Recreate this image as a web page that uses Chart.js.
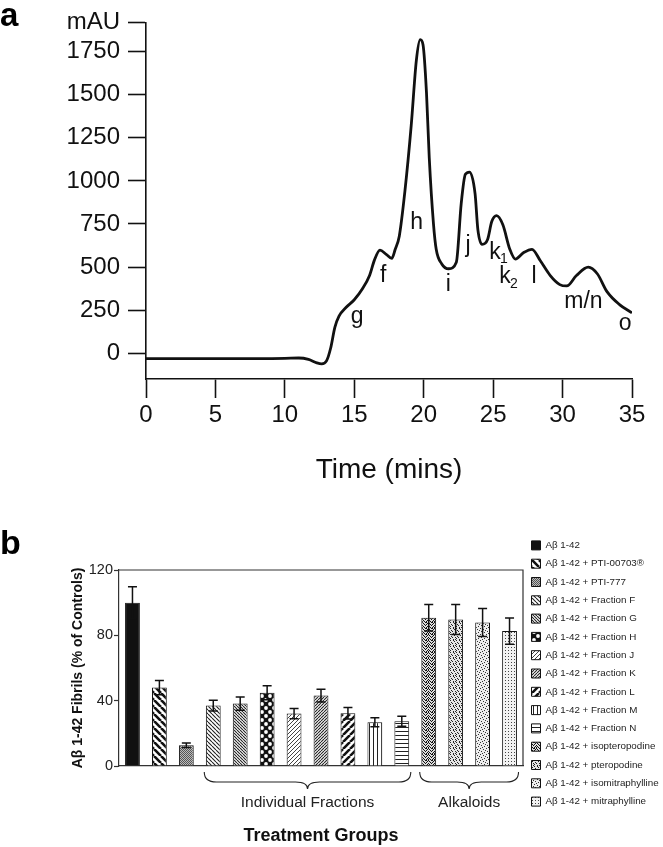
<!DOCTYPE html>
<html>
<head>
<meta charset="utf-8">
<title>HPLC profile and fibril inhibition</title>
<script src="https://cdn.jsdelivr.net/npm/chart.js@4.4.1/dist/chart.umd.min.js"></script>
<style>
  body { margin: 0; background: #fff; }
  #wrap { position: relative; width: 663px; height: 847px; }
  #chartA { position: absolute; left: 0; top: 0; }
  #chartB { position: absolute; left: 0; top: 490px; }
</style>
</head>
<body>
<div id="wrap">
  <canvas id="chartA" width="663" height="490"></canvas>
  <canvas id="chartB" width="663" height="357"></canvas>
</div>
<script>
// ---- panel a: HPLC trace ----
const times = [0, 5, 10, 11, 11.7, 12.3, 12.65, 13.0, 13.3, 13.6, 13.9, 14.4, 15.0, 15.6, 16.1, 16.45, 16.85, 17.3, 17.7, 17.95,
  18.24, 18.65, 19.1, 19.47, 19.75, 19.95, 20.2, 20.4, 20.7, 20.9, 21.3, 21.8, 22.35, 22.7, 23.0, 23.3, 23.7, 23.9, 24.2, 24.6,
  24.9, 25.25, 25.7, 26.2, 26.6, 27.2, 27.8, 28.4, 29.1, 29.8, 30.3, 31.0, 31.85, 32.5, 33.2, 34.1, 35.0];
const mau = [-32, -32, -30, -28, -36, -56, -62, -45, 30, 150, 215, 265, 310, 375, 451, 540, 598, 574, 550, 603,
  679, 943, 1322, 1700, 1820, 1790, 1511, 1133, 754, 603, 518, 490, 528, 868, 1038, 1051, 925, 717, 632, 660,
  764, 798, 745, 603, 546, 584, 603, 536, 452, 398, 390, 451, 499, 461, 357, 282, 234];
const yTicksA = [0, 250, 500, 750, 1000, 1250, 1500, 1750];
const yTopA = 1920; // top of the axis, labelled "mAU"

// peak letters, anchored in data units
const peakNames = ['g', 'f', 'h', 'i', 'j', 'k1', 'k2', 'l', 'm/n', 'o'];
const peakT = [15.2, 17.09, 19.49, 21.77, 23.2, 25.13, 25.85, 27.94, 31.5, 34.5];
const peakV = [214, 452, 755, 395, 622, 584, 442, 442, 301, 172];

// ---- panel b: fibril formation ----
const groups = ['Aβ 1-42', 'Aβ 1-42 + PTI-00703®', 'Aβ 1-42 + PTI-777', 'Aβ 1-42 + Fraction F', 'Aβ 1-42 + Fraction G',
  'Aβ 1-42 + Fraction H', 'Aβ 1-42 + Fraction J', 'Aβ 1-42 + Fraction K', 'Aβ 1-42 + Fraction L', 'Aβ 1-42 + Fraction M',
  'Aβ 1-42 + Fraction N', 'Aβ 1-42 + isopteropodine', 'Aβ 1-42 + pteropodine', 'Aβ 1-42 + isomitraphylline', 'Aβ 1-42 + mitraphylline'];
const fibrils = [100, 48, 12.7, 37, 38.2, 44.8, 32.1, 43.1, 32.3, 26.8, 27.4, 90.8, 89.7, 87.9, 82.6];
const sem = [9.8, 4.3, 1.4, 3.3, 4.1, 4.3, 3.1, 3.9, 3.5, 2.8, 3.1, 8.1, 9.2, 8.6, 8.0];
const brackets = [['Individual Fractions', 3, 10], ['Alkaloids', 11, 14]];

const FONT = '"Liberation Sans", Arial, Helvetica, sans-serif';
Chart.defaults.font.family = FONT;

// small repeating fills for the bars
function tile(w, h, paint, bg) {
  const c = document.createElement('canvas');
  c.width = w; c.height = h;
  const g = c.getContext('2d');
  g.fillStyle = bg || '#fff';
  g.fillRect(0, 0, w, h);
  paint(g, w, h);
  return g.createPattern(c, 'repeat');
}
function stripes(size, width, color, dir) {
  return tile(size, size, (g, w) => {
    g.strokeStyle = color;
    g.lineWidth = width;
    g.beginPath();
    for (let k = -1; k <= 1; k++) {
      if (dir > 0) { g.moveTo(k * w, w); g.lineTo(k * w + w, 0); }
      else { g.moveTo(k * w, 0); g.lineTo(k * w + w, w); }
    }
    g.stroke();
  });
}
function dots(size, pts, color, bg) {
  return tile(size, size, g => {
    g.fillStyle = color;
    pts.forEach(p => g.fillRect(p[0], p[1], 1, 1));
  }, bg);
}
function lines(size, vertical) {
  return tile(size, size, (g, w) => {
    g.fillStyle = '#222';
    if (vertical) g.fillRect(1, 0, 1, w); else g.fillRect(0, 1, w, 1);
  });
}
function makeFills() {
  return [
    '#111',
    stripes(7, 2.6, '#111', -1),
    dots(2, [[0, 0], [1, 1]], '#555', '#bbb'),
    stripes(4, 1.1, '#222', -1),
    stripes(3, 1.1, '#222', -1),
    tile(8, 8, g => {
      g.fillStyle = '#fff';
      [[2, 2], [6, 6]].forEach(p => { g.beginPath(); g.arc(p[0], p[1], 1.9, 0, Math.PI * 2); g.fill(); });
    }, '#111'),
    stripes(4, 1, '#444', 1),
    stripes(3, 1.1, '#222', 1),
    stripes(7, 2.6, '#111', 1),
    lines(4, true),
    lines(4, false),
    dots(6, [[0, 0], [2, 0], [5, 0], [1, 1], [3, 1], [4, 2], [0, 2], [2, 3], [5, 3], [1, 4], [3, 4], [4, 5], [0, 5], [2, 5]], '#111', '#ddd'),
    dots(6, [[0, 0], [3, 0], [1, 2], [4, 1], [2, 3], [5, 3], [0, 4], [3, 5], [5, 5]], '#222', '#e4e4e4'),
    dots(6, [[0, 0], [3, 1], [1, 3], [4, 4], [5, 2], [2, 5]], '#333', '#eee'),
    dots(3, [[1, 1]], '#444', '#f2f2f2')
  ];
}

const peakLabels = {
  id: 'peakLabels',
  afterDatasetsDraw(chart) {
    const { ctx, scales: { x, y } } = chart;
    ctx.save();
    ctx.fillStyle = '#111';
    ctx.textAlign = 'center';
    ctx.textBaseline = 'middle';
    peakNames.forEach((name, i) => {
      const px = x.getPixelForValue(peakT[i]);
      const py = y.getPixelForValue(peakV[i]);
      ctx.font = '23px ' + FONT;
      const sub = name.match(/^k(\d)$/);
      if (sub) {
        ctx.fillText('k', px, py);
        ctx.font = '14px ' + FONT;
        ctx.fillText(sub[1], px + 9, py + 7);
      } else {
        ctx.fillText(name, px, py);
      }
    });
    ctx.restore();
  }
};

new Chart(document.getElementById('chartA'), {
  type: 'line',
  data: {
    datasets: [{
      data: times.map((t, i) => ({ x: t, y: mau[i] })),
      borderColor: '#111',
      borderWidth: 2.8,
      pointRadius: 0,
      cubicInterpolationMode: 'monotone',
      fill: false
    }]
  },
  options: {
    responsive: false,
    animation: false,
    layout: { padding: { left: 0, right: 31, top: 0, bottom: 0 } },
    plugins: {
      legend: { display: false },
      tooltip: { enabled: false },
      title: {
        display: true, text: 'a', align: 'start', color: '#000',
        font: { size: 33, weight: 'bold', lineHeight: 0.333 },
        padding: { top: 4, bottom: 0 }
      }
    },
    scales: {
      x: {
        type: 'linear', min: 0, max: 35,
        afterFit: s => { s.height = 111; },
        ticks: { stepSize: 5, color: '#111', font: { size: 24 }, padding: 3 },
        grid: { drawOnChartArea: false, tickLength: 19, tickWidth: 1.6, tickColor: '#111' },
        border: { color: '#111', width: 1.6 },
        title: { display: true, text: 'Time (mins)', color: '#111', font: { size: 28 }, padding: { top: 0, bottom: 3 } }
      },
      y: {
        min: -150, max: yTopA,
        afterFit: s => { s.width = 146; },
        afterBuildTicks: s => { s.ticks = yTicksA.concat(yTopA).map(v => ({ value: v })); },
        ticks: { color: '#111', font: { size: 24 }, padding: 8, callback: v => v === yTopA ? 'mAU' : String(v) },
        grid: { drawOnChartArea: false, tickLength: 18, tickWidth: 1.6, tickColor: '#111' },
        border: { color: '#111', width: 1.6 }
      }
    }
  },
  plugins: [peakLabels]
});

// error bars, frame and group braces for panel b
const errorBars = {
  id: 'errorBars',
  afterDatasetsDraw(chart) {
    const { ctx, scales: { x, y } } = chart;
    ctx.save();
    ctx.strokeStyle = '#111';
    ctx.lineWidth = 1.5;
    fibrils.forEach((v, i) => {
      const px = x.getPixelForValue(i);
      const top = y.getPixelForValue(v + sem[i]);
      const bot = y.getPixelForValue(v - sem[i]);
      ctx.beginPath();
      ctx.moveTo(px, top); ctx.lineTo(px, bot);
      ctx.moveTo(px - 4.5, top); ctx.lineTo(px + 4.5, top);
      ctx.moveTo(px - 4.5, bot); ctx.lineTo(px + 4.5, bot);
      ctx.stroke();
    });
    ctx.restore();
  }
};

const frameAndBraces = {
  id: 'frameAndBraces',
  afterDraw(chart) {
    const { ctx, chartArea: a, scales: { x } } = chart;
    ctx.save();
    ctx.strokeStyle = '#333';
    ctx.lineWidth = 1.2;
    ctx.beginPath();
    ctx.moveTo(a.left, a.top); ctx.lineTo(a.right, a.top); ctx.lineTo(a.right, a.bottom);
    ctx.stroke();

    ctx.strokeStyle = '#222';
    ctx.lineWidth = 1.1;
    ctx.fillStyle = '#222';
    ctx.font = '15.5px ' + FONT;
    ctx.textAlign = 'center';
    ctx.textBaseline = 'middle';
    brackets.forEach(([label, from, to]) => {
      const x0 = x.getPixelForValue(from) - 9;
      const x1 = x.getPixelForValue(to) + 9;
      const mid = (x0 + x1) / 2;
      const yEnd = a.bottom + 6, yMid = a.bottom + 16, yTip = a.bottom + 23, r = 12;
      ctx.beginPath();
      ctx.moveTo(x0, yEnd);
      ctx.quadraticCurveTo(x0, yMid, x0 + r, yMid);
      ctx.lineTo(mid - r, yMid);
      ctx.quadraticCurveTo(mid, yMid, mid, yTip);
      ctx.quadraticCurveTo(mid, yMid, mid + r, yMid);
      ctx.lineTo(x1 - r, yMid);
      ctx.quadraticCurveTo(x1, yMid, x1, yEnd);
      ctx.stroke();
      ctx.fillText(label, mid, a.bottom + 37);
    });
    ctx.restore();
  }
};

const fills = makeFills();

new Chart(document.getElementById('chartB'), {
  type: 'bar',
  data: {
    labels: groups,
    datasets: groups.map((g, i) => ({
      label: g,
      data: fibrils.map((v, j) => (j === i ? v : null)),
      backgroundColor: fills[i],
      borderColor: '#111',
      borderWidth: 1,
      grouped: false,
      barPercentage: 0.55,
      categoryPercentage: 1
    }))
  },
  options: {
    responsive: false,
    animation: false,
    layout: { padding: { left: 0, right: 0, top: 42, bottom: 0 } },
    plugins: {
      tooltip: { enabled: false },
      title: {
        display: true, text: 'b', align: 'start', color: '#000',
        font: { size: 34, weight: 'bold', lineHeight: 0.765 },
        padding: { top: 0, bottom: 12 }
      },
      legend: {
        position: 'right', align: 'start', maxWidth: 140,
        labels: { boxWidth: 9, boxHeight: 9, padding: 8.5, color: '#222', font: { size: 9.8 } }
      }
    },
    scales: {
      x: {
        afterFit: s => { s.height = 81; },
        ticks: { display: false },
        grid: { display: false, drawTicks: false },
        border: { color: '#333', width: 1.2 },
        title: { display: true, text: 'Treatment Groups', color: '#111', font: { size: 18, weight: 'bold' }, padding: { top: 0, bottom: 0 } }
      },
      y: {
        min: 0, max: 120,
        afterFit: s => { s.width = 119; },
        ticks: { stepSize: 40, color: '#222', font: { size: 14.5 }, padding: 1 },
        grid: { drawOnChartArea: false, tickLength: 5, tickWidth: 1.2, tickColor: '#333' },
        border: { color: '#333', width: 1.2 },
        title: {
          display: true, text: 'Aβ 1-42 Fibrils (% of Controls)', color: '#111',
          font: { size: 14, weight: 'bold' }, padding: { top: 70, bottom: 0 }
        }
      }
    }
  },
  plugins: [errorBars, frameAndBraces]
});
</script>
</body>
</html>
